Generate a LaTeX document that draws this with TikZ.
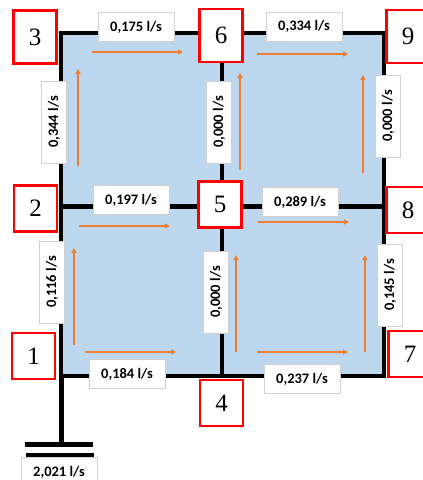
\documentclass[tikz,border=0pt]{standalone}
\usepackage{fontspec}
\usepackage{xcolor}
\setmainfont{Liberation Serif}
\newfontfamily\flowfont{Carlito}
\definecolor{cellblue}{HTML}{BDD7EE}
\definecolor{flowline}{HTML}{ED7D31}
\definecolor{nodered}{HTML}{FF0000}
\definecolor{boxgray}{HTML}{D0D0D0}
\usetikzlibrary{arrows.meta}
\begin{document}
\begin{tikzpicture}[x=1pt, y=-1pt,
    pipe/.style={draw=black, line width=3.5pt},
    mainpipe/.style={draw=black, line width=5pt},
    flow/.style={draw=flowline, line width=1.2pt, -{Triangle[length=5pt, width=5pt]}},
    numbox/.style={rectangle, draw=nodered, line width=2.2pt, fill=white, minimum width=43pt, minimum height=\boxh, inner sep=0pt, font=\fontsize{25}{25}\selectfont},
    flowbox/.style={rectangle, draw=boxgray, line width=0.8pt, fill=white, minimum width=76pt, minimum height=29pt, inner sep=0pt, font=\fontsize{14.5}{14.5}\selectfont\flowfont\bfseries},
    upbox/.style={flowbox, rotate=90, minimum width=82pt, minimum height=25pt}]
    \def\boxh{46pt}
    \clip (0,0) rectangle (423,480);

    \fill[cellblue] (61,33) rectangle (384,376);

    % pipe junctions
    \coordinate (j1) at (61,376);
    \coordinate (j2) at (61,206);
    \coordinate (j3) at (61,33);
    \coordinate (j4) at (222,376);
    \coordinate (j5) at (222,206);
    \coordinate (j6) at (222,33);
    \coordinate (j7) at (384,376);
    \coordinate (j8) at (384,206);
    \coordinate (j9) at (384,33);
    \coordinate (tank) at (61,444);
    \coordinate (barA) at (25,444);
    \coordinate (barB) at (93,444);
    \coordinate (barC) at (26,455);
    \coordinate (barD) at (94,455);

    \draw[pipe, line cap=rect] (j1) -- (j3) -- (j9) -- (j7) -- cycle;
    \draw[pipe] (j6) -- (j4);
    \draw[mainpipe] (j2) -- (j8);
    \draw[mainpipe] (j1) -- (tank);
    \draw[mainpipe] (barA) -- (barB);
    \draw[line width=4pt] (barC) -- (barD);

    % flow arrows
    \foreach \flowname/\xa/\ya/\xb/\yb in {fa/92/52/183/52, fb/257/54/348/54, fc/79/226/170/226, fd/258/222/349/222, fe/85/352/176/352, ff/257/352/348/352, fg/78/166/78/69, fh/240/170/240/73, fi/363/173/363/75, fj/74/345/74/248, fk/236/352/236/255, fl/365/352/365/255} {
        \coordinate (\flowname s) at (\xa,\ya);
        \coordinate (\flowname e) at (\xb,\yb);
        \draw[flow] (\flowname s) -- (\flowname e);
    }

    % flow labels
    \node (q36) [flowbox] at (136,27) {0,175 l/s};
    \node (q69) [flowbox] at (304,26.5) {0,334 l/s};
    \node (q25) [flowbox] at (131,200) {0,197 l/s};
    \node (q58) [flowbox] at (300,202) {0,289 l/s};
    \node (q14) [flowbox] at (127,374) {0,184 l/s};
    \node (q47) [flowbox] at (302,379) {0,237 l/s};
    \node (q00) [flowbox] at (59,472) {2,021 l/s};
    \node (q23) [upbox] at (54,122) {0,344 l/s};
    \node (q56) [upbox] at (219,122) {0,000 l/s};
    \node (q89) [upbox] at (388,116) {0,000 l/s};
    \node (q12) [upbox] at (52,282) {0,116 l/s};
    \node (q45) [upbox] at (216,292) {0,000 l/s};
    \node (q78) [upbox] at (390,285) {0,145 l/s};

    % numbered boxes
    \node (n1) [numbox] at (33.5,356) {1};
    \node (n2) [numbox] at (35.5,208.5) {2};
    \node (n3) [numbox, minimum height=53pt] at (35,37) {3};
    \node (n4) [numbox] at (221.5,403) {4};
    \node (n5) [numbox] at (220,204.5) {5};
    \node (n6) [numbox, minimum height=53pt] at (221,35.5) {6};
    \node (n7) [numbox] at (410,354) {7};
    \node (n8) [numbox] at (408,210) {8};
    \node (n9) [numbox, minimum height=53pt] at (408,36.5) {9};
\end{tikzpicture}
\end{document}
